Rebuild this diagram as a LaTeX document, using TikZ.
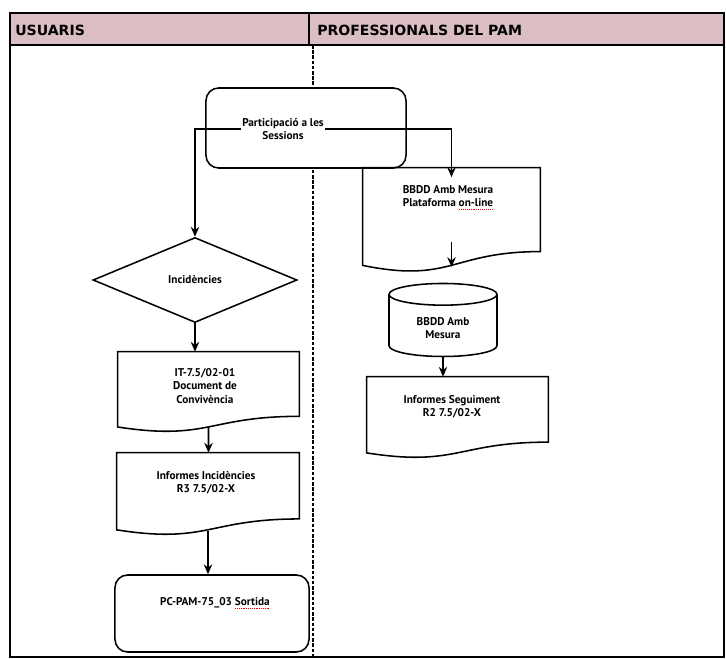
\documentclass[tikz,border=0pt]{standalone}
\usepackage{fontspec}
\setmainfont{PT Sans}
\newfontfamily\headfont{DejaVu Sans}
\usetikzlibrary{shapes,arrows.meta,positioning,calc}

\definecolor{headpink}{RGB}{218,190,196}

% red spell-check underline
\newsavebox{\errbox}
\newcommand{\spellerr}[1]{\leavevmode\sbox{\errbox}{#1}%
  \rlap{\textcolor{red}{\hbox to \wd\errbox{\xleaders\hbox to 1.3pt{\hss\rule[-2.2pt]{0.7pt}{0.6pt}\hss}\hfill}}}%
  \usebox{\errbox}}

% document outline with wavy bottom
\newcommand{\docoutline}[1]{%
  \draw[shapeline] (#1.north west) -- (#1.north east)
    -- ($(#1.north east)!0.802!(#1.south east)$)
    .. controls ($(#1.north)!0.802!(#1.south)$) and ($(#1.north)!1.1075!(#1.south)$)
    .. ($(#1.north west)!0.934!(#1.south west)$) -- cycle;}

\begin{document}
\begin{tikzpicture}[
    x=0.025cm, y=-0.025cm,
    shapeline/.style={line width=1.1pt},
    arrow/.style={-{Stealth[length=7pt,width=6pt]}, line width=1.1pt},
    lbl/.style={font=\bfseries\fontsize{8}{9.5}\selectfont, align=center, inner sep=1pt},
    headlbl/.style={font=\headfont\bfseries\fontsize{10}{12}\selectfont, anchor=west, inner sep=0pt},
    process/.style={rectangle, draw, shapeline, fill=white, rounded corners=9pt},
    decision/.style={diamond, draw, shapeline, inner sep=0pt, font=\bfseries\fontsize{8}{9.5}\selectfont},
    docnode/.style={rectangle, inner sep=0pt},
    database/.style={cylinder, shape border rotate=90, aspect=0.35, draw, shapeline, align=center,
        font=\bfseries\fontsize{8}{9.5}\selectfont}
]
    \useasboundingbox (0,0) rectangle (726,659);

    % marc i capcalera
    \draw[shapeline, fill=headpink] (10,13) rectangle (724,45);
    \draw[shapeline] (10,45) -- (10,657) -- (724,657) -- (724,45);
    \draw[shapeline] (309,13) -- (309,45);
    \draw[line width=1.2pt, dash pattern=on 2.5pt off 1.2pt] (313,45) -- (313,657);
    \node[headlbl] (usuaris) at (15,30) {USUARIS};
    \node[headlbl] (profs) at (317,30) {PROFESSIONALS DEL PAM};

    % participacio
    \node[process, minimum width=5cm, minimum height=2cm] (partbox) at (306,128) {};
    \node[lbl] (parttext) at (283,129) {Participació a les\\Sessions};

    % columna usuaris
    \node[decision, minimum width=5.1cm, minimum height=2.125cm] (incid) at (195,280) {Incidències};
    \node[docnode, minimum width=4.525cm, minimum height=2cm] (conviv) at (208.5,392) {};
    \node[lbl] (convivtxt) at (205,386) {IT-7.5/02-01\\Document de\\Convivència};
    \node[docnode, minimum width=4.55cm, minimum height=2.05cm] (infincid) at (208,494) {};
    \node[lbl] (infincidtxt) at (206,482.5) {Informes Incidències\\R3 7.5/02-X};
    \node[process, minimum width=4.85cm, minimum height=1.925cm] (pcbox) at (212,613.5) {};
    \node[lbl] (pctxt) at (215,603) {PC-PAM-75\_03 \spellerr{Sortida}};

    % columna professionals
    \node[docnode, minimum width=4.425cm, minimum height=2.6cm] (bbdd) at (451.5,220) {};
    \node[lbl] (bbddtxt) at (448,197.5) {BBDD Amb Mesura\\Plataforma \spellerr{on-line}};
    \node[database, minimum width=2.7cm, minimum height=1.825cm] (cyl) at (443,328) {BBDD Amb\\Mesura};
    \node[docnode, minimum width=4.525cm, minimum height=2.025cm] (segui) at (457.5,417.5) {};
    \node[lbl] (seguitxt) at (452,406.5) {Informes Seguiment\\R2 7.5/02-X};

    \foreach \d in {conviv, infincid, bbdd, segui} {\docoutline{\d}}

    % fletxes
    \draw[arrow] (parttext.west) -| (incid.north);
    \draw[arrow] (parttext.east) -| ($(bbdd.north)!0.09!(bbdd.south)$);
    \draw[arrow] (incid.south) -- (incid.south |- conviv.north);
    \draw[arrow] ($(conviv.north)!0.93!(conviv.south)$) -- (conviv.south |- infincid.north);
    \draw[arrow] ($(infincid.north)!0.95!(infincid.south)$) -- (infincid.south |- pcbox.north);
    \draw[arrow] ($(bbdd.north)!0.71!(bbdd.south)$) -- ($(bbdd.north)!0.95!(bbdd.south)$);
    \draw[arrow] (cyl.south) -- (cyl.south |- segui.north);
\end{tikzpicture}
\end{document}
